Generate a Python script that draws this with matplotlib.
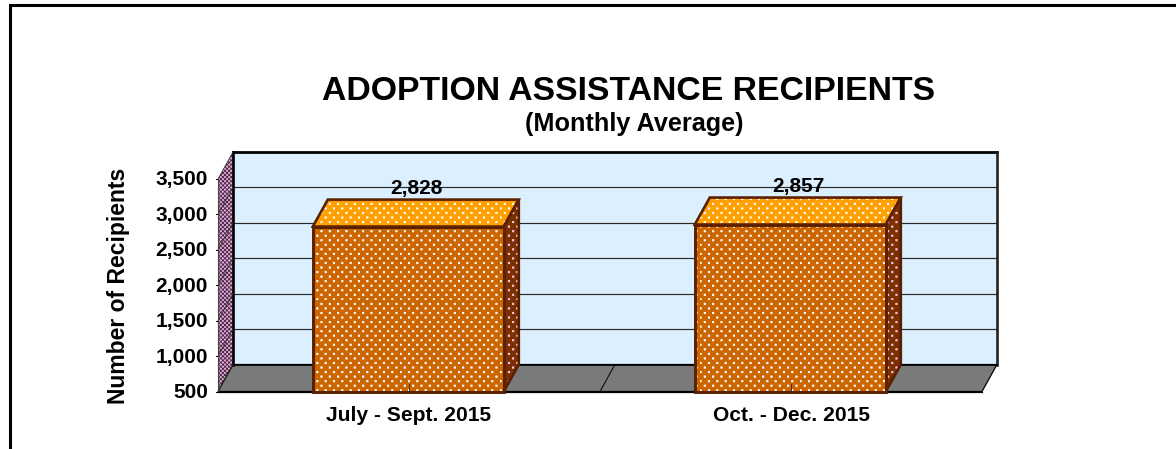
import matplotlib
matplotlib.use("Agg")
import matplotlib.hatch as mhatch
import matplotlib.pyplot as plt
from matplotlib.patches import Polygon
from matplotlib.path import Path

W, H = 1176, 449

categories = ["July - Sept. 2015", "Oct. - Dec. 2015"]
values = [2828, 2857]
labels = ["2,828", "2,857"]
yticks = [500, 1000, 1500, 2000, 2500, 3000, 3500]
ytick_labels = ["500", "1,000", "1,500", "2,000", "2,500", "3,000", "3,500"]


# matplotlib has no staggered dot grid with rows closer than columns
class DotGrid(mhatch.HatchPatternBase):
    def __init__(self, hatch, density):
        self.dots = hatch.count("*") > 0
        self.cols = 12
        self.rows = 22
        self.num_vertices = 0
        if self.dots:
            self.square = Path.unit_rectangle()
            self.num_vertices = (self.rows * self.cols) * 5

    def set_vertices_and_codes(self, vertices, codes):
        size = 1.3 / 100
        i = 0
        for r in range(self.rows):
            for c in range(self.cols):
                x = (c + (r % 2) * 0.5) / self.cols
                y = r / self.rows
                vertices[i:i + 5] = self.square.vertices * size + (x, y)
                codes[i:i + 5] = self.square.codes
                i += 5


mhatch._hatch_types = [t for t in mhatch._hatch_types if t is not mhatch.Stars] + [DotGrid]

plt.rcParams["font.family"] = ["Liberation Sans", "DejaVu Sans"]
plt.rcParams["hatch.linewidth"] = 0.6

fig = plt.figure(figsize=(W / 100, H / 100), dpi=100, facecolor="white")

# outer frame, cut by the picture at the bottom and right is open
fig.add_artist(plt.Line2D([10 / W, 10 / W, 1], [0, 1 - 5 / H, 1 - 5 / H], color="black", lw=2.2,
                          transform=fig.transFigure, solid_joinstyle="miter"))

# axes = front plane of the 3d box
left, right, bottom, top = 218, 982, 391.5, 179
ax = fig.add_axes([left / W, 1 - bottom / H, (right - left) / W, (bottom - top) / H])
ax.set_xlim(0, 2)
ax.set_ylim(500, 3500)
ax.axis("off")

px = 2 / (right - left)
py = 3000 / (bottom - top)

# depth of the box in data units
dx = 15 * px
dy = 27 * py


def poly(points, face, edge="none", lw=0, hatch=None, hatch_color=None, z=1):
    if hatch:
        ax.add_patch(Polygon(points, closed=True, facecolor=face, edgecolor=hatch_color, hatch=hatch,
                             lw=0, zorder=z, clip_on=False))
        face = "none"
    ax.add_patch(Polygon(points, closed=True, facecolor=face, edgecolor=edge, lw=lw, zorder=z,
                         clip_on=False, joinstyle="miter"))


# back wall
poly([(dx, 500 + dy), (2 + dx, 500 + dy), (2 + dx, 3500 + dy), (dx, 3500 + dy)], "#dcefff", "none", z=1)
for t in yticks[1:-1]:
    ax.plot([dx, 2 + dx], [t + dy, t + dy], color="#2a2a2a", lw=0.85, zorder=2, clip_on=False)
ax.plot([dx, 2 + dx], [3500 + dy, 3500 + dy], color="black", lw=2.0, zorder=3, clip_on=False, solid_capstyle="projecting")
ax.plot([2 + dx, 2 + dx], [500 + dy, 3500 + dy], color="#222222", lw=1.9, zorder=3, clip_on=False)
ax.plot([dx, 2 + dx], [500 + dy, 500 + dy], color="black", lw=1.2, zorder=3, clip_on=False)

# side wall
poly([(0, 500), (dx, 500 + dy), (dx, 3500 + dy), (0, 3500)], "#f3a6d8", "none", hatch="xxxxxxxx", hatch_color="#40304a", z=2)
ax.plot([dx, dx], [500 + dy, 3500 + dy], color="black", lw=1.9, zorder=3, clip_on=False)
for t in yticks:
    ax.plot([0, dx], [t, t + dy], color="#333333", lw=0.6, zorder=3, clip_on=False)
    ax.plot([-2 * px, 0], [t, t], color="black", lw=0.7, zorder=3, clip_on=False)
ax.plot([0, 0], [500, 3500], color="#444444", lw=0.8, zorder=3, clip_on=False)

# floor
poly([(0, 500), (dx, 500 + dy), (2 + dx, 500 + dy), (2, 500)], "#7a7a7a", "black", 0.9, z=2)
ax.plot([1, 1 + dx], [500, 500 + dy], color="black", lw=0.7, zorder=3, clip_on=False)

# bars
bar_w = 191 * px
edge = "#5a2000"
for i, v in enumerate(values):
    x0 = i + 0.5 - bar_w / 2 - 0.7 * px
    x1 = x0 + bar_w
    poly([(x0, v), (x1, v), (x1 + dx, v + dy), (x0 + dx, v + dy)], "#ff9f00", edge, 1.9, "*", "white", z=4)
    poly([(x1, 500), (x1 + dx, 500 + dy), (x1 + dx, v + dy), (x1, v)], "#7a3000", edge, 1.9, "*", "#ffc6e6", z=4)
    poly([(x0, 500), (x1, 500), (x1, v), (x0, v)], "#cc6600", edge, 2.1, "*", "white", z=5)
    ax.text(i + 0.5 + 7 * px, v + dy + 2 * py, labels[i], ha="center", va="bottom", fontsize=15, fontweight="bold", zorder=6)
    ax.plot([i + 0.5, i + 0.5], [500, 500 + 8 * py], color="#333333", lw=0.7, zorder=6)
    ax.text(i + 0.5, 500 - 29.5 * py, categories[i], ha="center", va="baseline", fontsize=15.1, fontweight="bold")

ax.plot([0, 2], [500, 500], color="black", lw=0.9, zorder=3, clip_on=False)

for t, lab in zip(yticks, ytick_labels):
    ax.text(-10 * px, t - 1 * py, lab, ha="right", va="center", fontsize=15, fontweight="bold", clip_on=False)

fig.text(628.5 / W, 1 - 91 / H, "ADOPTION ASSISTANCE RECIPIENTS", ha="center", va="center", fontsize=24.3, fontweight="bold")
fig.text(634 / W, 1 - 124 / H, "(Monthly Average)", ha="center", va="center", fontsize=18.2, fontweight="bold")
fig.text(118 / W, 1 - 286 / H, "Number of Recipients", ha="center", va="center", rotation=90, fontsize=16.5, fontweight="bold")

fig.savefig("out.png", dpi=100)
